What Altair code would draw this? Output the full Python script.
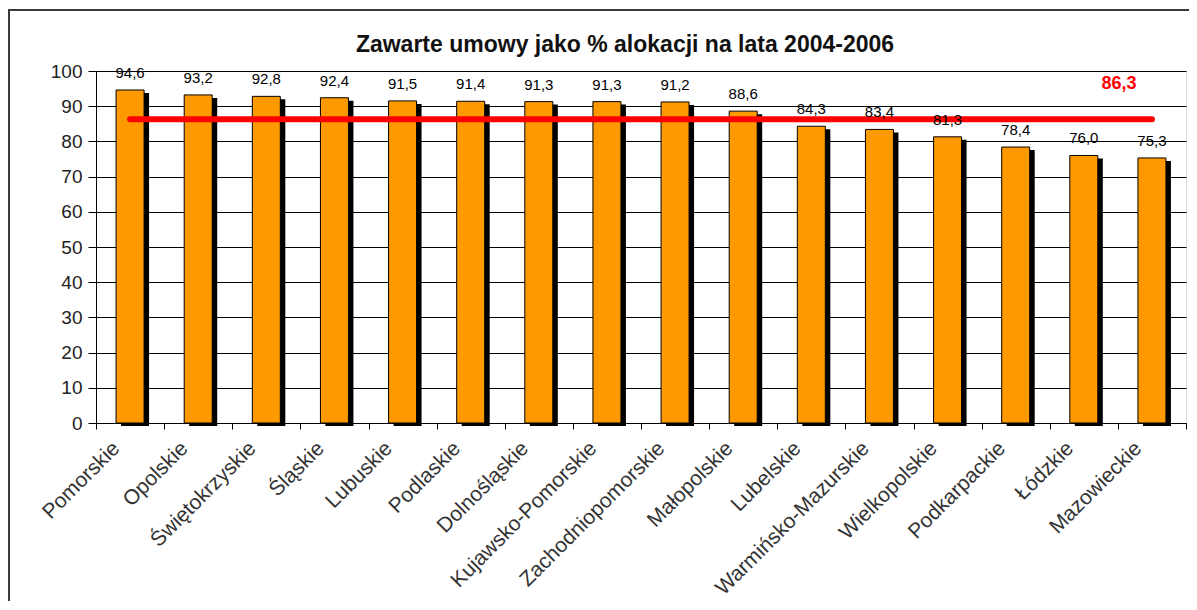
import altair as alt
import pandas as pd

categories = ["Pomorskie", "Opolskie", "Świętokrzyskie", "Śląskie", "Lubuskie",
              "Podlaskie", "Dolnośląskie", "Kujawsko-Pomorskie", "Zachodniopomorskie",
              "Małopolskie", "Lubelskie", "Warmińsko-Mazurskie", "Wielkopolskie",
              "Podkarpackie", "Łódzkie", "Mazowieckie"]
values = [94.6, 93.2, 92.8, 92.4, 91.5, 91.4, 91.3, 91.3, 91.2,
          88.6, 84.3, 83.4, 81.3, 78.4, 76.0, 75.3]
value_labels = ["94,6", "93,2", "92,8", "92,4", "91,5", "91,4", "91,3", "91,3", "91,2",
                "88,6", "84,3", "83,4", "81,3", "78,4", "76,0", "75,3"]
average = 86.3
average_label = "86,3"
average_label_y = 96.3
y_ticks = [0, 10, 20, 30, 40, 50, 60, 70, 80, 90, 100]
title_text = "Zawarte umowy jako % alokacji na lata 2004-2006"

FONT = "Liberation Sans"

df = pd.DataFrame({"region": categories, "value": values, "label": value_labels})
avg_df = pd.DataFrame({"region": [categories[0]], "region_end": [categories[-1]],
                       "value": [average]})
avg_text_df = pd.DataFrame({"region": [categories[-1]], "value": [average_label_y],
                            "label": [average_label]})

x_scale = alt.Scale(domain=categories, paddingInner=0, paddingOuter=0)
y_scale = alt.Scale(domain=[0, 100], nice=False)

x_enc = alt.X("region:N", sort=categories, scale=x_scale,
              axis=alt.Axis(title=None, labelAngle=-45, labelAlign="right",
                            labelBaseline="middle", labelFontSize=21, labelFont=FONT,
                            labelColor="#333333", labelPadding=16, labelOffset=-14,
                            tickBand="extent", tickSize=6, tickColor="black",
                            domainColor="black", grid=False, labelLimit=400,
                            labelOverlap=False))
y_enc = alt.Y("value:Q", scale=y_scale,
              axis=alt.Axis(title=None, values=y_ticks, labelOverlap=False,
                            labelFontSize=19, labelFont=FONT,
                            labelColor="#222222", tickSize=8, tickColor="black",
                            labelPadding=6, domainColor="black", grid=True,
                            gridColor="black", gridWidth=1, gridOpacity=1))

frame = alt.Chart(avg_df).mark_rect(fillOpacity=0, stroke="#3a3a3a", strokeWidth=2).encode(
    x=alt.value(-87), x2=alt.value(1400), y=alt.value(-61), y2=alt.value(800))

shadow = alt.Chart(df).mark_bar(color="black", width=28, xOffset=5, yOffset=3).encode(
    x=x_enc, y=y_enc)
bars = alt.Chart(df).mark_bar(color="#FF9900", stroke="black", strokeWidth=1, width=28).encode(
    x=x_enc, y=y_enc)
avg_rule = alt.Chart(avg_df).mark_rule(color="#FF0000", strokeWidth=6, strokeCap="round").encode(
    x=x_enc, x2="region_end:N", y=y_enc)
texts = alt.Chart(df).mark_text(dy=-17, fontSize=15, font=FONT, color="black").encode(
    x=x_enc, y=y_enc, text="label:N")
avg_text = alt.Chart(avg_text_df).mark_text(dx=-33, fontSize=18, font=FONT, fontWeight="bold",
                                            color="#FF0000").encode(
    x=x_enc, y=y_enc, text="label:N")

chart = alt.layer(shadow, bars, avg_rule, texts, avg_text, frame).properties(
    width=1090, height=352,
    title=alt.TitleParams(title_text, fontSize=23, font=FONT, fontWeight="bold",
                          anchor="middle", frame="group", dx=-16, offset=-48,
                          color="#111111"),
    autosize=alt.AutoSizeParams(type="none"),
    padding={"left": 88, "top": 63, "right": 3, "bottom": 178},
).configure_view(fill="#FFFFCC", stroke="#808080", strokeWidth=2).configure(
    background="white")

chart.save("out.html", embed_options={"renderer": "svg", "actions": False})
